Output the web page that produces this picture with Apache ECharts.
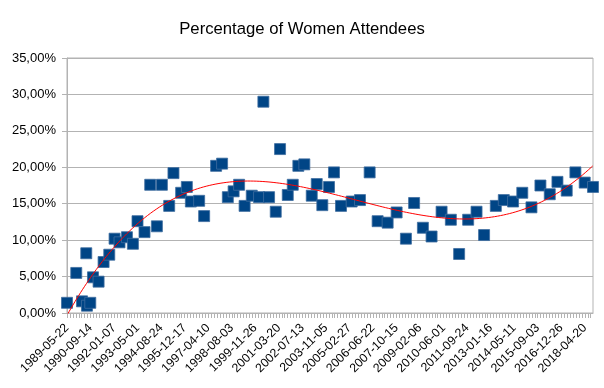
<!DOCTYPE html>
<html><head><meta charset="utf-8">
<script src="https://cdn.jsdelivr.net/npm/echarts@6.0.0/dist/echarts.min.js"></script>
<style>html,body{margin:0;padding:0;background:#fff}#c{width:604px;height:388px}</style>
</head><body><div id="c"></div>
<script>
// Data
const startDate = [1989, 5, 22]; // day 0 of the x axis
const dayOffsets = [0,189,306,393,407,475,530,644,746,862,970,1071,1222,1344,1438,1581,1697,1833,1935,2084,2171,2328,2444,2526,2695,2797,3041,3163,3280,3398,3510,3622,3768,3917,4005,4121,4257,4345,4502,4604,4718,4840,4991,5093,5207,5343,5445,5588,5805,5975,6172,6335,6539,6722,6912,7079,7258,7435,7639,7828,7997,8181,8352,8506,8745,8908,9097,9285,9472,9655,9845,10002,10191,10368,10558,10727];
const womenPct = [1.4,5.5,1.6,8.2,1.0,1.4,4.9,4.3,7.0,8.0,10.2,9.7,10.4,9.5,12.6,11.1,17.6,11.9,17.6,14.7,19.2,16.5,17.3,15.3,15.4,13.3,20.2,20.5,15.9,16.7,17.6,14.7,16.1,15.9,29.0,15.9,13.9,22.5,16.2,17.6,20.2,20.4,16.1,17.7,14.8,17.3,19.3,14.7,15.3,15.5,19.3,12.6,12.4,13.8,10.2,15.1,11.7,10.5,13.9,12.8,8.1,12.8,13.9,10.7,14.7,15.5,15.3,16.5,14.5,17.5,16.3,18.0,16.8,19.3,17.9,17.3];
const labelStepDays = 480;
const minorStepDays = 60;
const trendDegree = 4;

function pad(n){return (n<10?'0':'')+n;}
function dayToDate(d){
  const t = Date.UTC(startDate[0], startDate[1]-1, startDate[2]) + Math.round(d)*86400000;
  const dt = new Date(t);
  return dt.getUTCFullYear()+'-'+pad(dt.getUTCMonth()+1)+'-'+pad(dt.getUTCDate());
}

// Least squares polynomial trend line (like the spreadsheet's trend line)
function polyFit(xs, ys, deg){
  const n = deg+1, A = [], b = [];
  for(let i=0;i<n;i++){A.push(new Array(n).fill(0)); b.push(0);}
  for(let k=0;k<xs.length;k++){
    const x = xs[k]/1000;
    for(let i=0;i<n;i++){
      b[i] += ys[k]*Math.pow(x,i);
      for(let j=0;j<n;j++) A[i][j] += Math.pow(x,i+j);
    }
  }
  for(let i=0;i<n;i++){
    let p=i; for(let r=i+1;r<n;r++) if(Math.abs(A[r][i])>Math.abs(A[p][i])) p=r;
    [A[i],A[p]]=[A[p],A[i]]; [b[i],b[p]]=[b[p],b[i]];
    for(let r=i+1;r<n;r++){const f=A[r][i]/A[i][i]; for(let c=i;c<n;c++) A[r][c]-=f*A[i][c]; b[r]-=f*b[i];}
  }
  const c = new Array(n).fill(0);
  for(let i=n-1;i>=0;i--){let s=b[i]; for(let j=i+1;j<n;j++) s-=A[i][j]*c[j]; c[i]=s/A[i][i];}
  return x => c.reduce((acc,ci,i)=>acc+ci*Math.pow(x/1000,i),0);
}
const xMax = dayOffsets[dayOffsets.length-1];
const trendFn = polyFit(dayOffsets, womenPct, trendDegree);
const trendData = [];
for(let d=0; d<=xMax; d+=20) trendData.push([d, trendFn(d)]);
trendData.push([xMax, trendFn(xMax)]);

const chart = echarts.init(document.getElementById('c'), null, {renderer:'canvas'});
const gray = '#b3b3b3';
chart.setOption({
  animation:false,
  backgroundColor:'#fff',
  title:{text:'Percentage of Women Attendees', left:'center', top:16,
    textStyle:{fontFamily:'Liberation Sans', fontSize:16.7, fontWeight:'normal', color:'#000'}},
  grid:{left:67, right:11, top:58, bottom:75, show:true, borderColor:gray, borderWidth:1},
  xAxis:{type:'value', min:0, max:xMax, interval:minorStepDays,
    axisLine:{show:true, onZero:false, lineStyle:{color:gray}},
    axisTick:{show:true, length:5, lineStyle:{color:gray}},
    splitLine:{show:false},
    axisLabel:{rotate:45, margin:13, fontFamily:'Liberation Sans', fontSize:12.3, color:'#000',
      showMaxLabel:false,
      formatter:v => (Math.round(v)%labelStepDays===0 ? dayToDate(v) : '')}},
  yAxis:{type:'value', min:0, max:35, interval:5,
    axisLine:{show:true, lineStyle:{color:gray}},
    axisTick:{show:true, length:5, lineStyle:{color:gray}},
    splitLine:{show:true, lineStyle:{color:gray}},
    axisLabel:{margin:11, fontFamily:'Liberation Sans', fontSize:13, color:'#000',
      formatter:v => v.toFixed(2).replace('.', ',')+'%'}},
  series:[
    {type:'scatter', symbol:'rect', symbolSize:11, z:2,
      itemStyle:{color:'#004586', borderColor:'#3f6d9f', borderWidth:0.8, opacity:1},
      data:dayOffsets.map((d,i)=>[d, womenPct[i]])},
    {type:'line', showSymbol:false, z:3, smooth:false,
      lineStyle:{color:'#ff0000', width:1}, data:trendData}
  ]
});
</script></body></html>
